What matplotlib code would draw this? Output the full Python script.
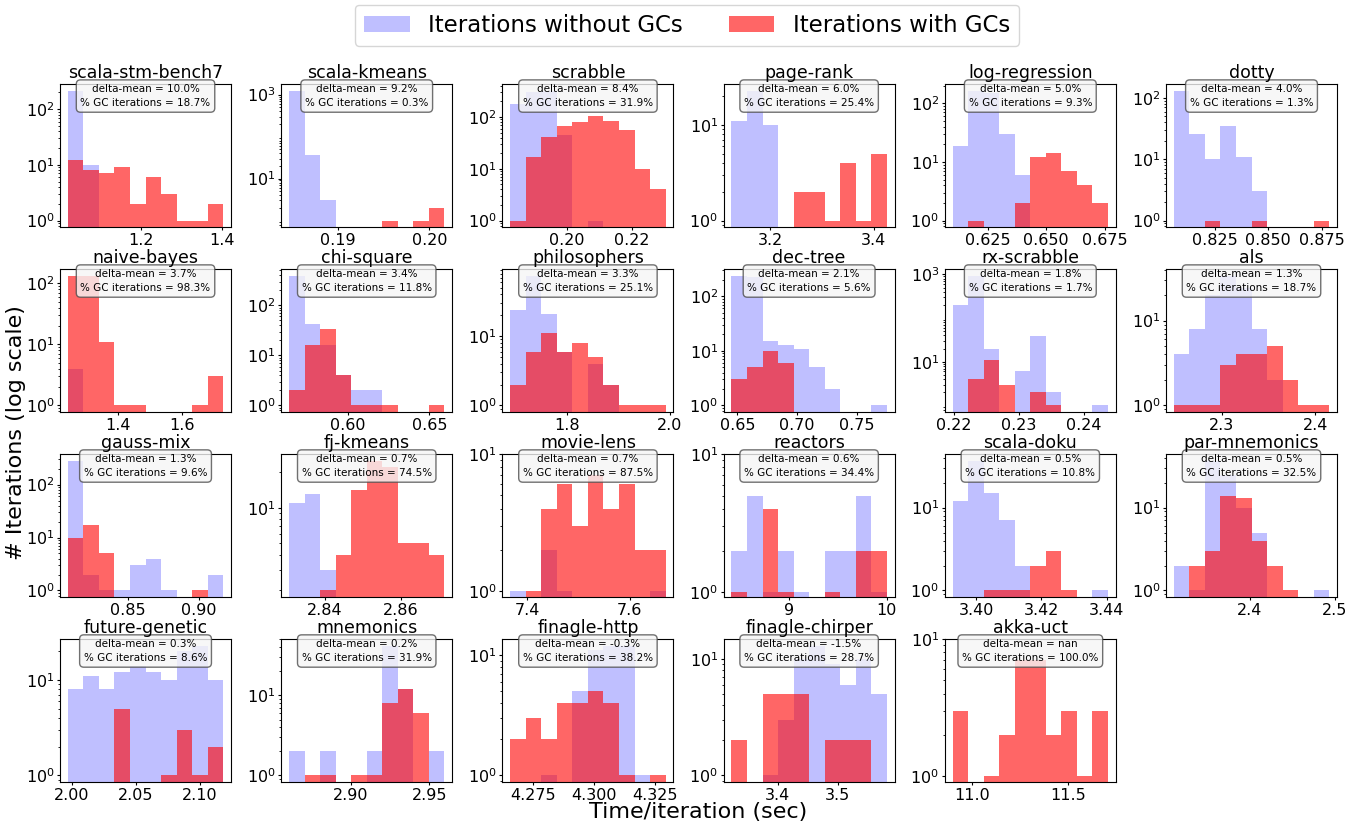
import math

import matplotlib
matplotlib.use('Agg')
import matplotlib.pyplot as plt
import numpy as np
from matplotlib.ticker import LogLocator

# benchmark names, in panel order
names = ['scala-stm-bench7', 'scala-kmeans', 'scrabble', 'page-rank', 'log-regression', 'dotty',
         'naive-bayes', 'chi-square', 'philosophers', 'dec-tree', 'rx-scrabble', 'als',
         'gauss-mix', 'fj-kmeans', 'movie-lens', 'reactors', 'scala-doku', 'par-mnemonics',
         'future-genetic', 'mnemonics', 'finagle-http', 'finagle-chirper', 'akka-uct']

delta_mean = [10.0, 9.2, 8.4, 6.0, 5.0, 4.0,
              3.7, 3.4, 3.3, 2.1, 1.8, 1.3,
              1.3, 0.7, 0.7, 0.6, 0.5, 0.5,
              0.3, 0.2, -0.3, -1.5, float('nan')]

gc_pct = [18.7, 0.3, 31.9, 25.4, 9.3, 1.3,
          98.3, 11.8, 25.1, 5.6, 1.7, 18.7,
          9.6, 74.5, 87.5, 34.4, 10.8, 32.5,
          8.6, 31.9, 38.2, 28.7, 100.0]

# (min, max) of time/iteration, shared by both histograms of a panel
time_range = [(1.022, 1.402), (0.18462, 0.20165), (0.18258, 0.2305), (3.1258, 3.425), (0.610, 0.6764), (0.8058, 0.8786),
              (1.245, 1.730), (0.5636, 0.6593), (1.690, 1.992), (0.645, 0.775), (0.21985, 0.24364), (2.249, 2.415),
              (0.8082, 0.9169), (2.8306, 2.8715), (7.367, 7.670), (8.403, 10.003), (3.3928, 3.4404), (2.3106, 2.4933),
              (1.9971, 2.1183), (2.8606, 2.9596), (4.2658, 4.3295), (3.3233, 3.5811), (10.899, 11.707)]

# counts per bin (10 bins), iterations without GC
no_gc_counts = [
    [216, 10, 0, 0, 0, 0, 0, 0, 0, 0],
    [1250, 37, 3, 0, 0, 0, 0, 0, 0, 0],
    [175, 300, 325, 45, 0, 1, 0, 0, 0, 0],
    [11, 23, 10, 0, 0, 0, 0, 0, 0, 0],
    [19, 165, 150, 30, 6, 0, 0, 0, 0, 0],
    [132, 26, 10, 35, 11, 3, 0, 0, 0, 0],
    [4, 0, 0, 0, 0, 0, 0, 0, 0, 0],
    [395, 43, 16, 4, 2, 2, 0, 0, 0, 0],
    [24, 75, 21, 6, 0, 4, 2, 0, 0, 0],
    [240, 230, 15, 13, 11, 5, 2, 0, 0, 1],
    [200, 940, 20, 0, 6, 38, 2, 0, 0, 1],
    [4, 8, 20, 34, 24, 8, 2, 0, 0, 0],
    [285, 2, 1, 1, 3, 4, 1, 0, 0, 2],
    [11, 13, 3, 0, 0, 0, 0, 0, 0, 0],
    [1, 0, 2, 1, 0, 0, 0, 0, 0, 1],
    [2, 5, 1, 2, 1, 0, 2, 2, 5, 1],
    [12, 37, 15, 7, 2, 0, 0, 0, 0, 1],
    [2, 1, 37, 25, 10, 5, 0, 0, 0, 1],
    [8, 11, 8, 12, 14, 12, 10, 20, 23, 10],
    [2, 0, 2, 0, 0, 2, 42, 12, 0, 2],
    [0, 0, 1, 0, 5, 11, 12, 12, 1, 0],
    [0, 0, 1, 3, 10, 13, 9, 6, 10, 5],
    [0, 0, 0, 0, 0, 0, 0, 0, 0, 0],
]

# counts per bin (10 bins), iterations with GC
gc_counts = [
    [12, 8, 7, 9, 2, 6, 3, 1, 1, 2],
    [0, 0, 0, 0, 0, 0, 1, 0, 1, 2],
    [1, 17, 41, 67, 81, 103, 85, 55, 10, 4],
    [0, 0, 0, 0, 2, 2, 1, 4, 1, 5],
    [0, 1, 0, 0, 2, 12, 14, 7, 4, 2],
    [0, 0, 1, 0, 0, 1, 0, 0, 0, 1],
    [134, 134, 11, 1, 1, 0, 0, 0, 1, 3],
    [2, 16, 33, 4, 1, 1, 1, 0, 0, 1],
    [2, 6, 11, 6, 8, 5, 2, 1, 1, 1],
    [3, 5, 10, 6, 0, 0, 0, 0, 0, 0],
    [0, 4, 11, 3, 0, 2, 1, 0, 0, 0],
    [1, 1, 1, 3, 4, 4, 5, 2, 1, 1],
    [10, 17, 5, 0, 0, 0, 0, 0, 1, 0],
    [0, 0, 2, 4, 14, 25, 22, 5, 5, 4],
    [0, 1, 4, 6, 3, 7, 4, 6, 2, 2],
    [1, 0, 4, 1, 0, 0, 1, 0, 2, 2],
    [0, 0, 1, 1, 1, 2, 3, 1, 0, 0],
    [0, 2, 3, 14, 13, 4, 2, 1, 0, 0],
    [0, 0, 0, 5, 0, 0, 1, 3, 1, 2],
    [0, 1, 1, 0, 1, 1, 8, 12, 6, 0],
    [2, 3, 2, 4, 4, 5, 4, 1, 0, 1],
    [2, 0, 5, 5, 5, 0, 2, 2, 2, 0],
    [3, 0, 1, 2, 7, 7, 2, 3, 1, 3],
]

NROWS, NCOLS = 4, 6

fig = plt.figure(figsize=(13.59, 8.24), dpi=100)
gs = fig.add_gridspec(NROWS, NCOLS, left=0.0442, right=0.9838, bottom=0.051, top=0.898,
                      wspace=0.294, hspace=0.294)

for i, name in enumerate(names):
    ax = fig.add_subplot(gs[i // NCOLS, i % NCOLS])

    lo, hi = time_range[i]
    bins = np.linspace(lo, hi, 11)
    centers = (bins[:-1] + bins[1:]) / 2

    ax.hist(centers, bins=bins, weights=no_gc_counts[i], color='blue', alpha=0.25, log=True,
            label='Iterations without GCs')
    ax.hist(centers, bins=bins, weights=gc_counts[i], color='red', alpha=0.6, log=True,
            label='Iterations with GCs')

    # small ranges still show the 10^1 decade
    ymin, ymax = ax.get_ylim()
    if ymax < 10:
        ax.set_ylim(ymin, 10)
    ax.yaxis.set_major_locator(LogLocator(numticks=3))

    ax.set_title(name, fontsize=12.5, pad=4)
    ax.tick_params(labelsize=11.5, length=2.5, pad=1.5)
    ax.tick_params(which='minor', length=1.5)

    dm = delta_mean[i]
    dm_txt = 'nan' if math.isnan(dm) else f'{dm:.1f}%'
    ax.text(0.5, 1.0, f'delta-mean = {dm_txt}\n% GC iterations = {gc_pct[i]:.1f}%',
            transform=ax.transAxes, ha='center', va='top', fontsize=7.5, linespacing=1.5,
            bbox=dict(boxstyle='round,pad=0.4', facecolor='whitesmoke', edgecolor='0.3', alpha=0.8))

    if i == 0:
        handles, labels = ax.get_legend_handles_labels()

fig.legend(handles, labels, loc='upper center', ncol=2, fontsize=16.5,
           bbox_to_anchor=(0.5055, 1.0), borderaxespad=0.2)

fig.text(0.514, 0.014, 'Time/iteration (sec)', ha='center', va='center', fontsize=16)
fig.text(0.0115, 0.4745, '# Iterations (log scale)', ha='center', va='center', rotation=90, fontsize=16)

fig.savefig('out.png', dpi=100)
